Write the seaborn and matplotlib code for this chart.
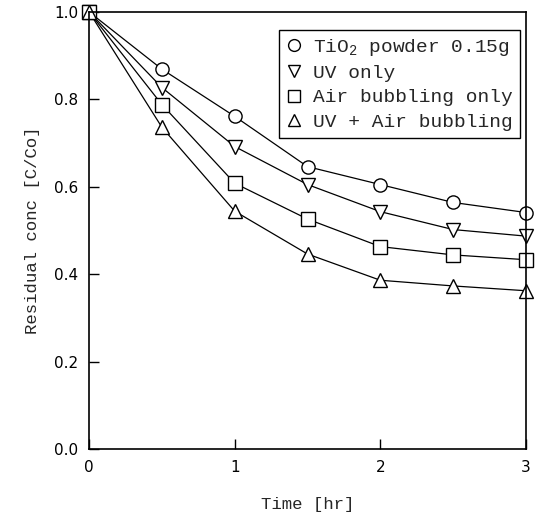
import matplotlib
matplotlib.use("Agg")
import matplotlib.pyplot as plt
import seaborn as sns
import pandas as pd
from matplotlib.lines import Line2D

time_hr = [0, 0.5, 1, 1.5, 2, 2.5, 3]
series_names = ["TiO$_2$ powder 0.15g", "UV only", "Air bubbling only", "UV + Air bubbling"]
tio2_powder = [1.0, 0.869, 0.761, 0.646, 0.605, 0.564, 0.541]
uv_only = [1.0, 0.827, 0.692, 0.605, 0.543, 0.502, 0.487]
air_only = [1.0, 0.788, 0.608, 0.526, 0.463, 0.444, 0.433]
uv_air = [1.0, 0.736, 0.544, 0.446, 0.386, 0.373, 0.362]
markers = ["o", "v", "s", "^"]
x_ticks = [0, 1, 2, 3]
y_ticks = [0.0, 0.2, 0.4, 0.6, 0.8, 1.0]

rows = []
for name, vals in zip(series_names, [tio2_powder, uv_only, air_only, uv_air]):
    for t, v in zip(time_hr, vals):
        rows.append({"Time": t, "C": v, "Series": name})
df = pd.DataFrame(rows)

sns.set_style("ticks")
plt.rcParams["mathtext.fontset"] = "custom"
plt.rcParams["mathtext.rm"] = "Liberation Mono"
fig = plt.figure(figsize=(5.4, 5.19), dpi=100)
ax = fig.add_axes([0.165, 0.135, 0.809, 0.842])

sns.lineplot(data=df, x="Time", y="C", hue="Series", style="Series",
             markers=dict(zip(series_names, markers)), dashes=False,
             palette=["black"] * 4, hue_order=series_names, style_order=series_names,
             markersize=9.5, markerfacecolor="white", markeredgecolor="black",
             markeredgewidth=1.0, linewidth=0.9, legend=False, ax=ax, clip_on=False)

ax.set_xlim(0, 3)
ax.set_ylim(0, 1.0)
ax.set_xticks(x_ticks)
ax.set_yticks(y_ticks)
ax.set_xticklabels([str(t) for t in x_ticks], family="DejaVu Sans", fontsize=11)
ax.set_yticklabels([f"{t:.1f}" for t in y_ticks], family="DejaVu Sans", fontsize=11)
ax.tick_params(direction="in", length=7, width=1, colors="black", pad=8)
for s in ax.spines.values():
    s.set_linewidth(1.2)
    s.set_color("black")

ax.set_xlabel("Time [hr]", family="Liberation Mono", fontsize=12.5, labelpad=16)
ax.set_ylabel("Residual conc [C/Co]", family="Liberation Mono", fontsize=12.5, labelpad=10)

handles = [Line2D([], [], linestyle="none", marker=m, markersize=8.5,
                  markerfacecolor="white", markeredgecolor="black", markeredgewidth=1.0)
           for m in markers]
leg = ax.legend(handles, series_names, loc="upper right", bbox_to_anchor=(0.986, 0.959),
                frameon=True, fancybox=False, edgecolor="black", framealpha=1,
                prop={"family": "Liberation Mono", "size": 14}, handlelength=0.8,
                handletextpad=0.6, borderpad=0.35, labelspacing=0.35, borderaxespad=0)
leg.get_frame().set_linewidth(1.0)

fig.savefig("out.png", dpi=100)
